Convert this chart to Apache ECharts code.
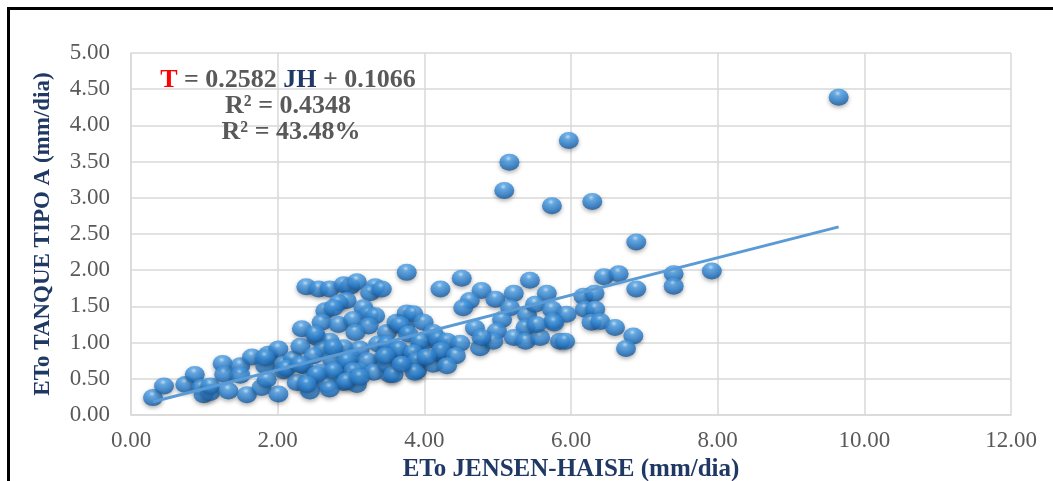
<!DOCTYPE html>
<html>
<head>
<meta charset="utf-8">
<script src="https://cdn.jsdelivr.net/npm/echarts@6/dist/echarts.min.js"></script>
<style>
  html, body { margin: 0; padding: 0; background: #ffffff; }
  #frame { position: absolute; left: 7px; top: 7px; width: 1060px; height: 490px;
           border-top: 3px solid #000; border-left: 3px solid #000; box-sizing: border-box; }
  #chart { position: absolute; left: 0; top: 0; width: 1053px; height: 481px; }
</style>
</head>
<body>
<div id="frame"></div>
<div id="chart"></div>
<script>
// ETo JENSEN-HAISE (mm/dia) values
const jhValues = [
  0.30,0.45,0.74,0.87,0.96,0.99,1.08,1.08,1.25,1.27,1.33,1.49,1.49,1.58,1.65,1.78,1.83,1.87,2.01,2.01,
  1.85,2.08,2.21,2.39,2.56,2.71,2.90,2.99,3.08,3.33,3.26,3.42,3.76,2.94,2.83,2.65,2.76,3.17,3.24,3.33,
  2.33,2.60,2.83,3.03,3.24,3.49,3.62,3.76,3.74,3.06,2.53,2.71,2.31,2.62,2.90,3.12,3.37,3.62,2.49,2.74,
  2.99,3.22,3.44,3.71,2.08,2.35,2.58,2.81,3.12,3.31,3.53,2.26,2.42,2.67,2.90,3.08,2.44,2.71,2.51,3.49,
  4.22,3.85,3.99,1.83,2.12,2.31,2.76,2.94,3.03,2.76,2.53,2.40,2.94,3.12,3.49,3.67,3.58,3.85,3.90,4.12,
  4.22,4.17,3.94,
  4.51,4.78,4.97,5.22,5.44,5.67,4.62,4.53,5.17,5.40,5.51,5.74,5.76,5.85,5.06,4.69,4.99,5.38,5.22,4.76,
  4.94,5.38,5.58,
  3.67,3.78,4.12,3.94,4.19,4.31,4.49,3.65,3.47,3.85,4.23,4.43,3.90,3.87,4.03,3.69,4.31,
  5.97,5.16,5.09,5.74,6.29,6.89,6.45,6.65,7.40,7.40,7.92,6.89,6.17,6.32,6.19,6.33,6.28,6.40,6.60,6.85,
  6.75,5.94,5.77,5.92,5.53,4.78,9.65
];
// ETo TANQUE TIPO A (mm/dia) values
const tanqueValues = [
  0.24,0.40,0.42,0.56,0.38,0.28,0.31,0.40,0.71,0.56,0.33,0.68,0.55,0.28,0.80,0.38,0.68,0.84,0.91,0.29,
  0.49,0.70,0.77,1.77,1.74,1.74,1.80,1.78,1.84,1.77,1.69,1.74,1.97,1.58,1.55,1.44,1.48,1.48,1.39,1.37,
  1.19,1.28,1.25,1.32,1.23,1.14,1.28,1.41,1.21,1.14,1.07,1.02,0.95,0.91,0.93,0.91,0.98,0.91,0.82,0.77,
  0.79,0.75,0.79,0.77,0.61,0.68,0.59,0.63,0.61,0.59,0.56,0.45,0.47,0.42,0.45,0.42,0.33,0.36,1.12,0.98,
  1.74,1.40,1.28,0.79,0.65,0.70,0.93,0.75,0.61,0.61,0.56,0.42,0.47,0.52,0.70,0.79,0.56,0.70,0.61,0.70,
  0.84,1.02,0.93,
  1.89,1.72,1.60,1.68,1.86,1.68,1.58,1.48,1.48,1.38,1.53,1.46,1.30,1.02,1.32,1.20,1.16,1.21,1.07,0.93,
  1.02,1.02,1.07,
  1.25,1.12,1.14,1.02,1.05,1.02,0.99,0.91,0.82,0.86,0.89,0.82,0.75,0.59,0.80,0.70,0.68,
  3.79,3.49,3.10,2.89,2.95,2.39,1.91,1.95,1.95,1.78,1.99,1.74,1.64,1.68,1.46,1.46,1.28,1.29,1.21,1.09,
  0.92,1.39,1.27,1.02,1.25,1.07,4.39
];
// Trend line coefficients (as printed on the chart)
const trendSlope = 0.2582;
const trendIntercept = 0.1066;
// Axis ranges / ticks
const xTicks = { min: 0, max: 12, interval: 2 };
const yTicks = { min: 0, max: 5, interval: 0.5 };
const xTitle = 'ETo JENSEN-HAISE (mm/dia)';
const yTitle = 'ETo TANQUE TIPO A (mm/dia)';

const points = jhValues.map((x, i) => [x, tanqueValues[i]]);
const xMin = Math.min(...jhValues), xMax = Math.max(...jhValues);
const trend = [[xMin, trendSlope * xMin + trendIntercept], [xMax, trendSlope * xMax + trendIntercept]];

const chart = echarts.init(document.getElementById('chart'), null, { renderer: 'canvas' });
const serif = '"Liberation Serif", "Times New Roman", serif';
const grey = '#595959';
const navy = '#1F3864';
const gridColor = '#d9d9d9';

chart.setOption({
  backgroundColor: 'transparent',
  animation: false,
  grid: { left: 131, right: 42, top: 53, bottom: 66, containLabel: false, outerBoundsMode: 'none' },
  xAxis: {
    type: 'value', min: xTicks.min, max: xTicks.max, interval: xTicks.interval,
    name: xTitle, nameLocation: 'middle', nameGap: 39,
    nameTextStyle: { fontFamily: serif, fontWeight: 'bold', fontSize: 25, color: navy },
    axisLine: { show: true, lineStyle: { color: gridColor, width: 1.5 } },
    axisTick: { show: false },
    axisLabel: { fontFamily: serif, fontSize: 23, color: grey, margin: 14,
                 formatter: v => v.toFixed(2) },
    splitLine: { show: true, lineStyle: { color: gridColor, width: 1.5 } }
  },
  yAxis: {
    type: 'value', min: yTicks.min, max: yTicks.max, interval: yTicks.interval,
    name: yTitle, nameLocation: 'middle', nameGap: 76,
    nameTextStyle: { fontFamily: serif, fontWeight: 'bold', fontSize: 23, color: navy },
    axisLine: { show: true, lineStyle: { color: gridColor, width: 1.5 } },
    axisTick: { show: false },
    axisLabel: { fontFamily: serif, fontSize: 23, color: grey, margin: 21,
                 formatter: v => v.toFixed(2) },
    splitLine: { show: true, lineStyle: { color: gridColor, width: 1.5 } }
  },
  series: [
    {
      type: 'scatter',
      data: points,
      symbol: 'circle',
      symbolSize: [20, 17],
      z: 2,
      itemStyle: {
        color: {
          type: 'radial', x: 0.45, y: 0.28, r: 0.78,
          colorStops: [
            { offset: 0, color: '#bfe3fc' },
            { offset: 0.2, color: '#52a4ea' },
            { offset: 0.6, color: '#2a7fcf' },
            { offset: 1, color: '#134f8f' }
          ]
        },
        shadowBlur: 4,
        shadowColor: 'rgba(0,0,0,0.4)',
        shadowOffsetY: 2
      }
    },
    {
      type: 'line',
      data: trend,
      symbol: 'none',
      z: 3,
      lineStyle: { color: '#5B9BD5', width: 3 }
    }
  ],
  graphic: [
    {
      type: 'text', x: 288, y: 80, z: 10,
      style: {
        text: '{r|T}{g| = 0.2582 }{n|JH}{g| + 0.1066}',
        align: 'center', verticalAlign: 'middle',
        rich: {
          r: { fontFamily: serif, fontWeight: 'bold', fontSize: 26, fill: '#FF0000' },
          g: { fontFamily: serif, fontWeight: 'bold', fontSize: 26, fill: grey },
          n: { fontFamily: serif, fontWeight: 'bold', fontSize: 26, fill: navy }
        }
      }
    },
    {
      type: 'text', x: 288, y: 106, z: 10,
      style: { text: 'R² = 0.4348', align: 'center', verticalAlign: 'middle',
               font: 'bold 26px ' + serif, fill: grey }
    },
    {
      type: 'text', x: 291, y: 132, z: 10,
      style: { text: 'R² = 43.48%', align: 'center', verticalAlign: 'middle',
               font: 'bold 26px ' + serif, fill: grey }
    }
  ]
});
</script>
</body>
</html>
